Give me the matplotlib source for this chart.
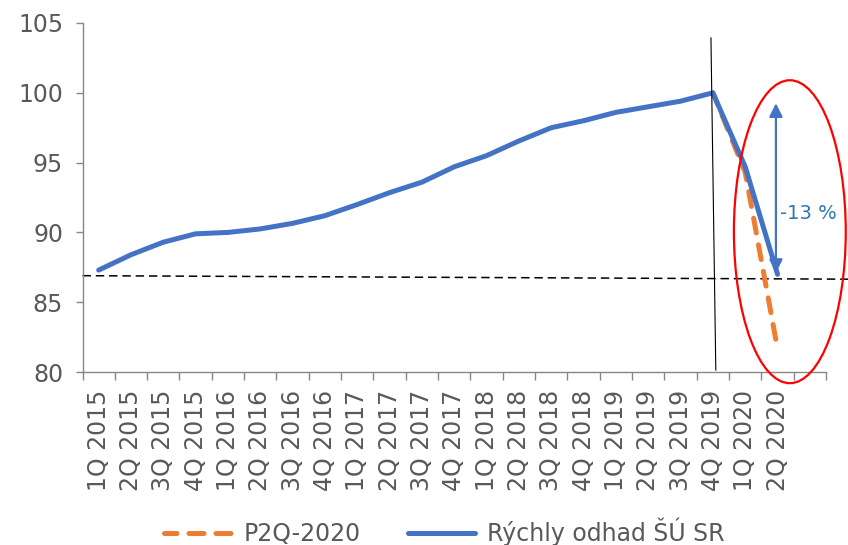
import numpy as np
import matplotlib.pyplot as plt
from matplotlib.patches import Ellipse

# quarters 1Q 2015 .. 2Q 2020
quarters = [f"{q}Q {y}" for y in range(2015, 2021) for q in range(1, 5)][:22]
# quick estimate of the statistical office (index, 4Q 2019 = 100)
blue = [87.3, 88.4, 89.3, 89.9, 90.0, 90.25, 90.65, 91.2, 92.0, 92.85, 93.6,
        94.7, 95.5, 96.55, 97.5, 98.0, 98.6, 99.0, 99.4, 100.0, 94.7, 87.0]
# P2Q-2020 projection (only last three quarters)
orange = [np.nan] * 19 + [100.0, 94.3, 81.65]

grey = '#595959'
plt.rcParams['font.family'] = 'DejaVu Sans'

fig = plt.figure(figsize=(8.48, 5.45), dpi=100)
ax = fig.add_axes([0.0973, 0.3174, 0.8768, 0.6404])
x = np.arange(len(quarters))

ax.plot(x, orange, color='#ED7D31', lw=3.6, linestyle=(0.5, (3.0, 2.4)),
        dash_capstyle='round', label='P2Q-2020', zorder=3)
ax.plot(x, blue, color='#4472C4', lw=3.6, solid_capstyle='round',
        solid_joinstyle='round', label='Rýchly odhad ŠÚ SR', zorder=4)

# reference lines
ax.plot([-0.5, 23.18], [86.9, 86.65], color='black', lw=1.1,
        linestyle=(0, (5.5, 3.2)), clip_on=False, zorder=2)
ax.plot([18.94, 19.09], [103.93, 80.14], color='black', lw=0.8,
        clip_on=False, zorder=5)

# drop annotation
ax.annotate('', xy=(20.95, 99.25), xytext=(20.95, 87.1),
            arrowprops=dict(arrowstyle='<|-|>', color='#4472C4', lw=1.6,
                            mutation_scale=20, shrinkA=0, shrinkB=0),
            zorder=6)
ax.text(21.07, 91.39, '-13 %', color='#2E75B6', fontsize=14, va='center',
        ha='left', zorder=6)
ax.add_patch(Ellipse((21.38, 90.05), 3.46, 21.7, fill=False, ec='#FF0000',
                     lw=1.6, clip_on=False, zorder=7))

ax.set_xlim(-0.5, 22.5)
ax.set_ylim(80, 105)
ax.set_yticks(np.arange(80, 106, 5))
ax.set_xticks(np.arange(-0.5, 23, 1))
ax.set_xticklabels([])
ax.set_xticks(x, minor=True)
ax.set_xticklabels(quarters, minor=True, rotation=90)

for s in ['top', 'right']:
    ax.spines[s].set_visible(False)
for s in ['left', 'bottom']:
    ax.spines[s].set_color('#868686')
    ax.spines[s].set_linewidth(1.0)
ax.tick_params(axis='y', which='major', length=5, width=1.0, color='#868686',
               labelsize=17, labelcolor=grey, pad=9)
ax.tick_params(axis='x', which='major', length=6, width=1.0, color='#868686')
ax.tick_params(axis='x', which='minor', length=0, labelsize=17,
               labelcolor=grey, pad=13)

fig.legend(loc='center', bbox_to_anchor=(0.524, 0.024), ncol=2, frameon=False,
           fontsize=17, labelcolor=grey, handlelength=2.85, handletextpad=0.5,
           columnspacing=2.0)

fig.savefig('out.png', dpi=100)
